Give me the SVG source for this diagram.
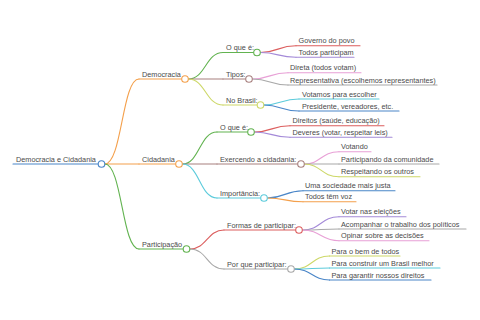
<svg xmlns="http://www.w3.org/2000/svg" width="480" height="320" viewBox="0 0 480 320">
<style>
text{font-family:"Liberation Sans",Arial,sans-serif;font-size:7.3px;fill:#4a4a4a}
path,line{fill:none;stroke-width:1.1;stroke-linecap:round}
circle{fill:#fff;stroke-width:1.1}
.b{stroke:#4a86c8}.o{stroke:#f4a04c}.g{stroke:#62b350}.r{stroke:#dc5e5e}.p{stroke:#a48ad8}
.m{stroke:#a8807f}.k{stroke:#e8a0d6}.y{stroke:#a8a8a8}.l{stroke:#cdd868}.c{stroke:#5ccbdb}
</style>
<rect width="480" height="320" fill="#fff"/>
<g id="connectors">
<path class="o" d="M104.8,164 C122,164 122,79 139,79"/>
<path class="o" d="M104.8,164 H139"/>
<path class="g" d="M104.8,164 C122,164 122,249 139,249"/>
<path class="g" d="M188.3,79 C205.6,79 205.6,52.5 223,52.5"/>
<path class="m" d="M188.3,79 H223"/>
<path class="l" d="M188.3,79 C205.6,79 205.6,105 223,105"/>
<path class="g" d="M182.3,164 C199.6,164 199.6,132 217,132"/>
<path class="m" d="M182.3,164 H217"/>
<path class="c" d="M182.3,164 C199.6,164 199.6,198 217,198"/>
<path class="r" d="M189.8,249 C207,249 207,230 224,230"/>
<path class="y" d="M189.8,249 C207,249 207,269 224,269"/>
<path class="r" d="M260.3,52.5 C278,52.5 278,45.7 296,45.7"/>
<path class="p" d="M260.3,52.5 C278,52.5 278,57.3 296,57.3"/>
<path class="k" d="M252.3,79 C270,79 270,72.7 288,72.7"/>
<path class="y" d="M252.3,79 C270,79 270,85 288,85"/>
<path class="c" d="M263.8,105 C281,105 281,99 299,99"/>
<path class="b" d="M263.8,105 C281,105 281,111 299,111"/>
<path class="r" d="M254.3,132 C272,132 272,125.7 290,125.7"/>
<path class="p" d="M254.3,132 C272,132 272,137.3 290,137.3"/>
<path class="k" d="M304.3,164 C321,164 321,151.7 339,151.7"/>
<path class="y" d="M304.3,164 H339"/>
<path class="l" d="M304.3,164 C321,164 321,176.7 339,176.7"/>
<path class="b" d="M267.3,198 C285,198 285,190.7 303,190.7"/>
<path class="o" d="M267.3,198 C285,198 285,201.7 303,201.7"/>
<path class="p" d="M302.3,230 C321,230 321,216.7 339,216.7"/>
<path class="y" d="M302.3,230 C321,230 321,229 339,229"/>
<path class="k" d="M302.3,230 C321,230 321,240.7 339,240.7"/>
<path class="l" d="M294.3,269 C312,269 312,256 329.5,256"/>
<path class="c" d="M294.3,269 C312,269 312,268 329.5,268"/>
<path class="b" d="M294.3,269 C312,269 312,280 329.5,280"/>
</g>
<g id="root"><line class="b" x1="13" y1="164" x2="98.2" y2="164"/><text x="16" y="161.5">Democracia e Cidadania</text><circle class="b" cx="101.5" cy="164" r="3.3"/></g>
<g id="democracia"><line class="o" x1="139" y1="79" x2="181.7" y2="79"/><text x="142" y="76.5">Democracia</text><circle class="o" cx="185" cy="79" r="3.3"/></g>
<g id="cidadania"><line class="o" x1="139" y1="164" x2="175.7" y2="164"/><text x="142" y="161.5">Cidadania</text><circle class="o" cx="179" cy="164" r="3.3"/></g>
<g id="participacao"><line class="g" x1="139" y1="249" x2="183.2" y2="249"/><text x="142" y="246.5">Participação</text><circle class="g" cx="186.5" cy="249" r="3.3"/></g>
<g id="d-oque"><line class="g" x1="223" y1="52.5" x2="253.7" y2="52.5"/><text x="226" y="50">O que é:</text><circle class="g" cx="257" cy="52.5" r="3.3"/></g>
<g id="d-tipos"><line class="m" x1="223" y1="79" x2="245.7" y2="79"/><text x="226" y="76.5">Tipos:</text><circle class="m" cx="249" cy="79" r="3.3"/></g>
<g id="d-brasil"><line class="l" x1="223" y1="105" x2="257.2" y2="105"/><text x="226" y="102.5">No Brasil:</text><circle class="l" cx="260.5" cy="105" r="3.3"/></g>
<g id="c-oque"><line class="g" x1="217" y1="132" x2="247.7" y2="132"/><text x="220" y="129.5">O que é:</text><circle class="g" cx="251" cy="132" r="3.3"/></g>
<g id="c-exerc"><line class="m" x1="217" y1="164" x2="297.7" y2="164"/><text x="220" y="161.5">Exercendo a cidadania:</text><circle class="m" cx="301" cy="164" r="3.3"/></g>
<g id="c-import"><line class="c" x1="217" y1="198" x2="260.7" y2="198"/><text x="220" y="195.5">Importância:</text><circle class="c" cx="264" cy="198" r="3.3"/></g>
<g id="p-formas"><line class="r" x1="224" y1="230" x2="295.7" y2="230"/><text x="227" y="227.5">Formas de participar:</text><circle class="r" cx="299" cy="230" r="3.3"/></g>
<g id="p-porque"><line class="y" x1="224" y1="269" x2="287.7" y2="269"/><text x="227" y="266.5">Por que participar:</text><circle class="y" cx="291" cy="269" r="3.3"/></g>
<g id="l1"><line class="r" x1="296" y1="45.7" x2="360" y2="45.7"/><text x="298.5" y="43.2">Governo do povo</text></g>
<g id="l2"><line class="p" x1="296" y1="57.3" x2="354" y2="57.3"/><text x="298.5" y="54.8">Todos participam</text></g>
<g id="l3"><line class="k" x1="288" y1="72.7" x2="361" y2="72.7"/><text x="290" y="70.2">Direta (todos votam)</text></g>
<g id="l4"><line class="y" x1="288" y1="85" x2="437" y2="85"/><text x="290" y="82.5">Representativa (escolhemos representantes)</text></g>
<g id="l5"><line class="c" x1="299" y1="99" x2="379" y2="99"/><text x="302" y="96.5">Votamos para escolher</text></g>
<g id="l6"><line class="b" x1="299" y1="111" x2="399" y2="111"/><text x="302" y="108.5">Presidente, vereadores, etc.</text></g>
<g id="l7"><line class="r" x1="290" y1="125.7" x2="384" y2="125.7"/><text x="292.5" y="123.2">Direitos (saúde, educação)</text></g>
<g id="l8"><line class="p" x1="290" y1="137.3" x2="392" y2="137.3"/><text x="292.5" y="134.8">Deveres (votar, respeitar leis)</text></g>
<g id="l9"><line class="k" x1="339" y1="151.7" x2="371" y2="151.7"/><text x="341" y="149.2">Votando</text></g>
<g id="l10"><line class="y" x1="339" y1="164" x2="439" y2="164"/><text x="341" y="161.5">Participando da comunidade</text></g>
<g id="l11"><line class="l" x1="339" y1="176.7" x2="420" y2="176.7"/><text x="341" y="174.2">Respeitando os outros</text></g>
<g id="l12"><line class="b" x1="303" y1="190.7" x2="395" y2="190.7"/><text x="305" y="188.2">Uma sociedade mais justa</text></g>
<g id="l13"><line class="o" x1="303" y1="201.7" x2="356" y2="201.7"/><text x="305" y="199.2">Todos têm voz</text></g>
<g id="l14"><line class="p" x1="339" y1="216.7" x2="406" y2="216.7"/><text x="341" y="214.2">Votar nas eleições</text></g>
<g id="l15"><line class="y" x1="339" y1="229" x2="466" y2="229"/><text x="341" y="226.5">Acompanhar o trabalho dos políticos</text></g>
<g id="l16"><line class="k" x1="339" y1="240.7" x2="429" y2="240.7"/><text x="341" y="238.2">Opinar sobre as decisões</text></g>
<g id="l17"><line class="l" x1="329.5" y1="256" x2="400" y2="256"/><text x="331.5" y="253.5">Para o bem de todos</text></g>
<g id="l18"><line class="c" x1="329.5" y1="268" x2="440" y2="268"/><text x="331.5" y="265.5">Para construir um Brasil melhor</text></g>
<g id="l19"><line class="b" x1="329.5" y1="280" x2="431" y2="280"/><text x="331.5" y="277.5">Para garantir nossos direitos</text></g>
</svg>
